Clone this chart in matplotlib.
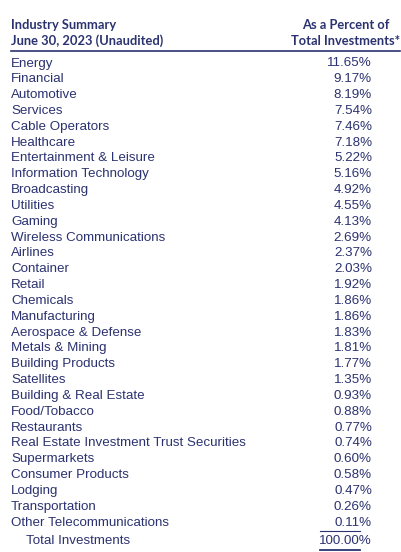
import matplotlib
matplotlib.use("Agg")
import matplotlib.pyplot as plt

industries = ["Energy","Financial","Automotive","Services","Cable Operators","Healthcare",
 "Entertainment & Leisure","Information Technology","Broadcasting","Utilities","Gaming",
 "Wireless Communications","Airlines","Container","Retail","Chemicals","Manufacturing",
 "Aerospace & Defense","Metals & Mining","Building Products","Satellites",
 "Building & Real Estate","Food/Tobacco","Restaurants","Real Estate Investment Trust Securities",
 "Supermarkets","Consumer Products","Lodging","Transportation","Other Telecommunications"]
percents = [11.65,9.17,8.19,7.54,7.46,7.18,5.22,5.16,4.92,4.55,4.13,2.69,2.37,2.03,1.92,1.86,
 1.86,1.83,1.81,1.77,1.35,0.93,0.88,0.77,0.74,0.60,0.58,0.47,0.26,0.11]
total_label = "Total Investments"
total_value = 100.00

W, H = 402, 552
fig = plt.figure(figsize=(W/100, H/100), dpi=100)
ax = fig.add_axes([0, 0, 1, 1])
ax.set_xlim(0, W); ax.set_ylim(H, 0); ax.axis("off")
navy = "#2b3270"
font = "Liberation Sans"

ax.text(11, 25, "Industry Summary", fontsize=9.3, fontweight="bold", color=navy, va="center", family="Lato")
ax.text(11, 41, "June 30, 2023 (Unaudited)", fontsize=9.3, fontweight="bold", color=navy, va="center", family="Lato")
ax.text(346, 25, "As a Percent of", fontsize=9.3, fontweight="bold", color=navy, va="center", ha="center", family="Lato")
ax.text(346, 41, "Total Investments*", fontsize=9.3, fontweight="bold", color=navy, va="center", ha="center", family="Lato")
ax.plot([11, 400], [51, 51], color=navy, lw=1.2)

y0, dy = 63.5, (522.5 - 63.5) / (len(industries) - 1)
for i, (n, p) in enumerate(zip(industries, percents)):
    y = y0 + i * dy
    ax.text(11, y, n, fontsize=9.6, color=navy, va="center", family=font)
    ax.text(372, y, f"{p:.2f}%", fontsize=9.6, color=navy, va="center", ha="right", family=font)

ax.plot([320, 360], [531, 531], color=navy, lw=0.8)
ax.text(26, 541, total_label, fontsize=9.6, color=navy, va="center", family=font)
ax.text(372, 541, f"{total_value:.2f}%", fontsize=9.6, color=navy, va="center", ha="right", family=font)
ax.plot([320, 360], [549.5, 549.5], color=navy, lw=1.3)

fig.savefig("out.png", dpi=100)
